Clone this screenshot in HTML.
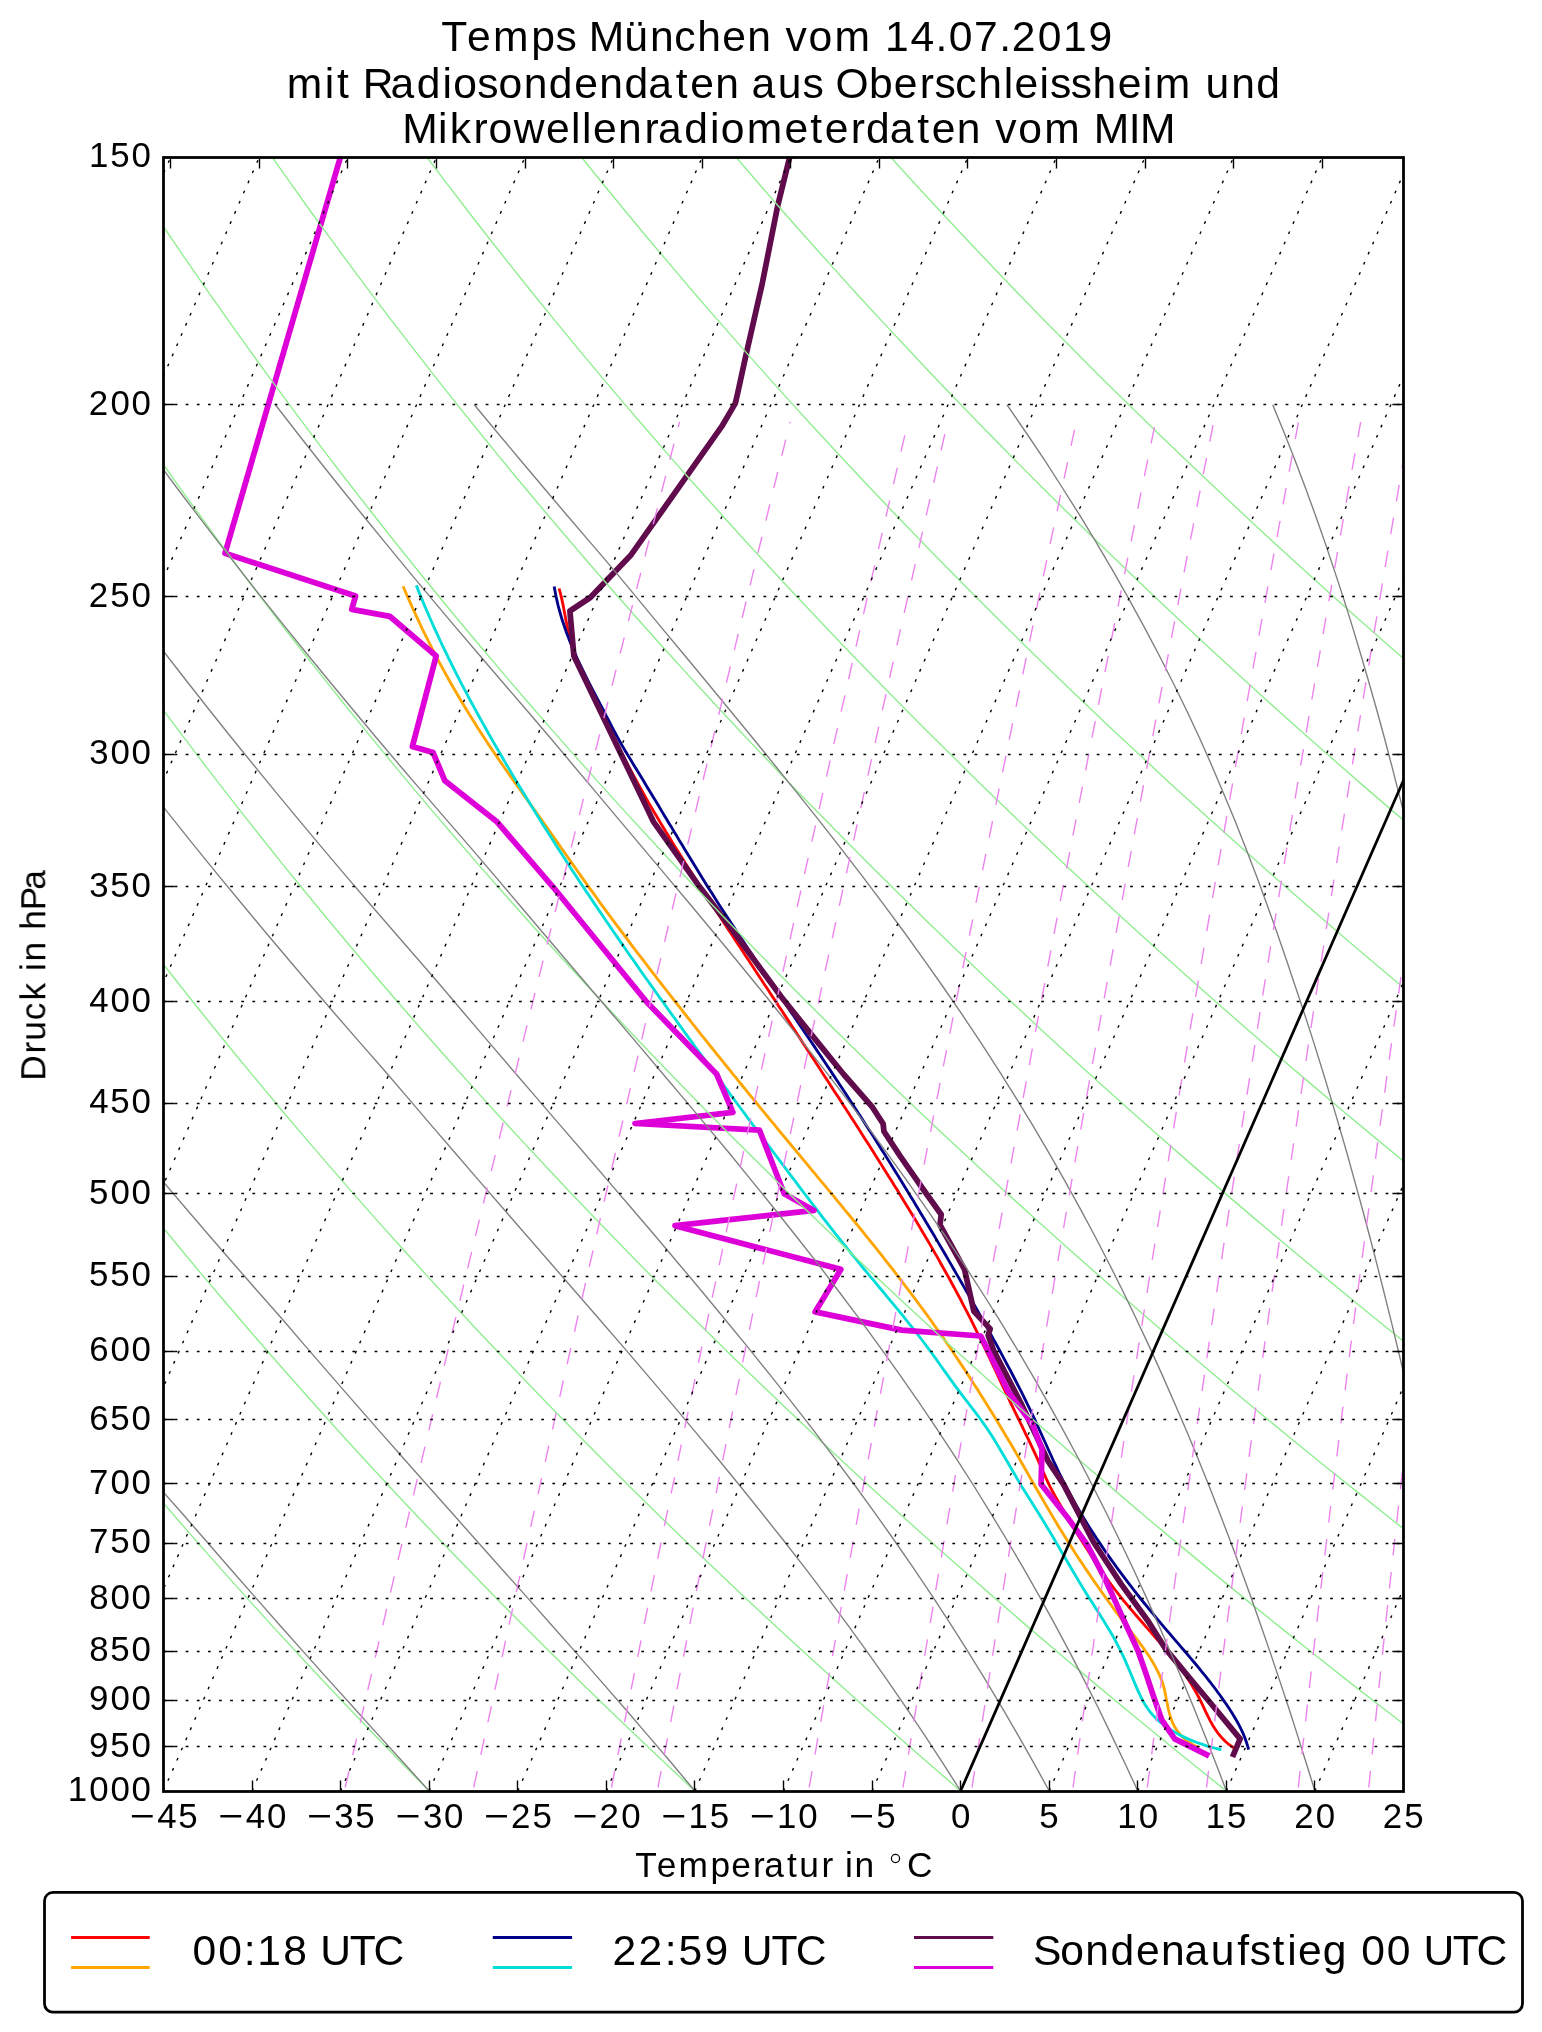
<!DOCTYPE html>
<html><head><meta charset="utf-8"><title>Temps München</title>
<style>
html,body{margin:0;padding:0;background:#fff;}
body{width:1542px;height:2032px;overflow:hidden;}
svg{display:block;}
text{font-family:"Liberation Sans",sans-serif;fill:#000;}
</style></head><body>
<svg width="1542" height="2032" viewBox="0 0 1542 2032">
<rect width="1542" height="2032" fill="#fff"/>
<defs><clipPath id="c"><rect x="163.5" y="157.5" width="1240.0" height="1634.0"/></clipPath></defs>
<g clip-path="url(#c)">
<path d="M559.1 588.5 L560.4 593.3 L561.6 598.1 L562.6 602.9 L563.6 607.7 L564.5 612.4 L565.4 617.2 L566.3 621.9 L567.2 626.6 L568.1 631.3 L569.1 636.0 L570.2 640.7 L571.4 645.4 L572.7 650.1 L574.2 654.7 L575.8 659.3 L577.6 664.0 L579.6 668.6 L581.6 673.2 L583.8 677.8 L586.0 682.4 L588.3 686.9 L590.7 691.5 L593.1 696.1 L595.5 700.6 L597.9 705.1 L600.3 709.7 L602.6 714.2 L604.9 718.7 L607.1 723.2 L609.3 727.7 L611.5 732.1 L613.7 736.6 L615.8 741.1 L618.0 745.5 L620.2 749.9 L622.4 754.4 L624.7 758.8 L627.0 763.2 L629.3 767.6 L631.6 772.0 L634.0 776.4 L636.4 780.8 L638.8 785.2 L641.2 789.5 L643.7 793.9 L646.1 798.3 L648.6 802.6 L651.1 806.9 L653.6 811.3 L656.2 815.6 L658.8 819.9 L661.3 824.2 L663.9 828.5 L666.5 832.8 L669.2 837.1 L671.8 841.4 L674.4 845.7 L677.1 850.0 L679.8 854.3 L682.5 858.5 L685.1 862.8 L687.8 867.0 L690.6 871.3 L693.3 875.5 L696.0 879.8 L698.7 884.0 L701.5 888.2 L704.2 892.5 L706.9 896.7 L709.7 900.9 L712.4 905.1 L715.2 909.3 L717.9 913.6 L720.7 917.8 L723.4 922.0 L726.2 926.2 L728.9 930.4 L731.7 934.5 L734.4 938.7 L737.2 942.9 L739.9 947.1 L742.7 951.3 L745.4 955.5 L748.2 959.6 L750.9 963.8 L753.7 968.0 L756.4 972.2 L759.1 976.3 L761.9 980.5 L764.6 984.7 L767.4 988.8 L770.1 993.0 L772.8 997.1 L775.6 1001.3 L778.3 1005.5 L781.1 1009.6 L783.8 1013.8 L786.5 1017.9 L789.3 1022.1 L792.0 1026.3 L794.7 1030.4 L797.4 1034.6 L800.2 1038.7 L802.9 1042.9 L805.6 1047.0 L808.3 1051.2 L811.1 1055.4 L813.8 1059.5 L816.5 1063.7 L819.2 1067.8 L821.9 1072.0 L824.6 1076.2 L827.3 1080.3 L830.0 1084.5 L832.7 1088.7 L835.4 1092.9 L838.2 1097.0 L840.9 1101.2 L843.5 1105.4 L846.2 1109.6 L848.9 1113.7 L851.6 1117.9 L854.3 1122.1 L857.0 1126.3 L859.7 1130.5 L862.4 1134.7 L865.0 1138.9 L867.7 1143.1 L870.4 1147.3 L873.1 1151.5 L875.7 1155.8 L878.4 1160.0 L881.1 1164.2 L883.7 1168.4 L886.4 1172.7 L889.0 1176.9 L891.7 1181.1 L894.3 1185.4 L897.0 1189.6 L899.6 1193.9 L902.2 1198.2 L904.8 1202.4 L907.4 1206.7 L910.0 1211.0 L912.6 1215.3 L915.2 1219.5 L917.8 1223.8 L920.3 1228.1 L922.9 1232.5 L925.4 1236.8 L928.0 1241.1 L930.5 1245.4 L933.0 1249.8 L935.5 1254.1 L938.0 1258.4 L940.4 1262.8 L942.9 1267.2 L945.3 1271.5 L947.8 1275.9 L950.2 1280.3 L952.6 1284.7 L955.0 1289.1 L957.3 1293.5 L959.7 1297.9 L962.0 1302.3 L964.3 1306.8 L966.6 1311.2 L968.9 1315.7 L971.2 1320.1 L973.4 1324.6 L975.6 1329.1 L977.8 1333.6 L980.0 1338.1 L982.2 1342.6 L984.4 1347.1 L986.5 1351.6 L988.7 1356.1 L990.8 1360.6 L992.9 1365.2 L995.1 1369.7 L997.2 1374.2 L999.3 1378.8 L1001.4 1383.3 L1003.6 1387.9 L1005.7 1392.4 L1007.9 1396.9 L1010.0 1401.5 L1012.2 1406.0 L1014.4 1410.6 L1016.6 1415.1 L1018.8 1419.7 L1021.0 1424.2 L1023.2 1428.7 L1025.4 1433.3 L1027.6 1437.8 L1029.8 1442.3 L1031.9 1446.8 L1034.0 1451.3 L1036.1 1455.8 L1038.1 1460.3 L1040.0 1464.8 L1042.0 1469.3 L1044.0 1473.7 L1046.0 1478.2 L1048.1 1482.6 L1050.3 1487.1 L1052.6 1491.5 L1055.0 1495.9 L1057.5 1500.3 L1060.1 1504.7 L1062.6 1509.0 L1065.2 1513.4 L1067.8 1517.7 L1070.4 1522.0 L1072.9 1526.3 L1075.5 1530.6 L1078.1 1534.9 L1080.7 1539.2 L1083.4 1543.4 L1086.0 1547.6 L1088.7 1551.8 L1091.4 1556.0 L1094.1 1560.1 L1096.9 1564.2 L1099.6 1568.3 L1102.5 1572.4 L1105.3 1576.5 L1108.2 1580.5 L1111.1 1584.5 L1114.1 1588.5 L1117.2 1592.5 L1120.2 1596.4 L1123.4 1600.3 L1126.6 1604.2 L1129.8 1608.0 L1133.1 1611.9 L1136.4 1615.7 L1139.7 1619.5 L1143.0 1623.3 L1146.3 1627.1 L1149.7 1630.9 L1153.0 1634.7 L1156.3 1638.6 L1159.6 1642.4 L1162.9 1646.2 L1166.1 1650.1 L1169.3 1653.9 L1172.5 1657.9 L1175.6 1661.8 L1178.6 1665.7 L1181.5 1669.7 L1184.4 1673.8 L1187.2 1677.9 L1189.9 1682.0 L1192.5 1686.2 L1195.0 1690.4 L1197.4 1694.7 L1199.7 1699.0 L1201.8 1703.4 L1203.9 1707.9 L1206.0 1712.3 L1208.1 1716.7 L1210.4 1721.1 L1212.8 1725.4 L1215.4 1729.5 L1218.3 1733.6 L1221.6 1737.5 L1225.2 1741.2 L1229.2 1744.7 L1233.8 1747.9 L1234.0 1748.0" stroke="#ff0000" stroke-width="2.85" fill="none" stroke-linejoin="round" stroke-linecap="butt"/>
<path d="M403.1 586.3 L405.1 591.0 L407.1 595.7 L409.2 600.3 L411.2 604.9 L413.3 609.5 L415.4 614.1 L417.5 618.7 L419.6 623.2 L421.8 627.8 L424.0 632.3 L426.2 636.7 L428.4 641.2 L430.6 645.7 L432.9 650.1 L435.2 654.5 L437.5 658.9 L439.8 663.3 L442.2 667.6 L444.6 672.0 L447.0 676.3 L449.4 680.7 L451.8 685.0 L454.3 689.3 L456.8 693.5 L459.3 697.8 L461.8 702.1 L464.4 706.3 L467.0 710.6 L469.6 714.8 L472.2 719.0 L474.9 723.2 L477.5 727.5 L480.2 731.7 L482.9 735.8 L485.7 740.0 L488.4 744.2 L491.2 748.4 L494.0 752.5 L496.9 756.7 L499.7 760.9 L502.6 765.0 L505.5 769.2 L508.4 773.3 L511.3 777.4 L514.2 781.6 L517.2 785.7 L520.1 789.8 L523.0 794.0 L526.0 798.1 L528.9 802.2 L531.9 806.3 L534.8 810.4 L537.7 814.5 L540.7 818.6 L543.6 822.7 L546.4 826.8 L549.3 830.9 L552.2 835.0 L555.1 839.0 L557.9 843.1 L560.8 847.2 L563.6 851.2 L566.4 855.3 L569.3 859.4 L572.1 863.4 L575.0 867.5 L577.8 871.5 L580.7 875.6 L583.5 879.6 L586.4 883.6 L589.3 887.7 L592.2 891.7 L595.1 895.7 L598.0 899.8 L600.9 903.8 L603.9 907.8 L606.8 911.8 L609.8 915.8 L612.7 919.8 L615.7 923.8 L618.7 927.8 L621.7 931.8 L624.7 935.8 L627.7 939.8 L630.7 943.8 L633.7 947.8 L636.7 951.8 L639.8 955.8 L642.8 959.7 L645.8 963.7 L648.9 967.7 L651.9 971.6 L655.0 975.6 L658.0 979.6 L661.1 983.5 L664.2 987.5 L667.2 991.4 L670.3 995.4 L673.4 999.3 L676.5 1003.3 L679.6 1007.2 L682.7 1011.2 L685.8 1015.1 L688.9 1019.0 L692.0 1023.0 L695.1 1026.9 L698.2 1030.8 L701.3 1034.8 L704.5 1038.7 L707.6 1042.6 L710.7 1046.5 L713.9 1050.4 L717.0 1054.3 L720.1 1058.2 L723.3 1062.1 L726.4 1066.0 L729.6 1069.9 L732.7 1073.8 L735.9 1077.7 L739.0 1081.6 L742.2 1085.5 L745.4 1089.4 L748.5 1093.3 L751.7 1097.2 L754.9 1101.0 L758.0 1104.9 L761.2 1108.8 L764.4 1112.7 L767.5 1116.5 L770.7 1120.4 L773.9 1124.2 L777.1 1128.1 L780.3 1132.0 L783.5 1135.8 L786.6 1139.7 L789.8 1143.5 L793.0 1147.4 L796.2 1151.2 L799.4 1155.0 L802.6 1158.9 L805.8 1162.7 L809.0 1166.6 L812.1 1170.4 L815.3 1174.2 L818.5 1178.1 L821.7 1181.9 L824.9 1185.7 L828.1 1189.6 L831.3 1193.4 L834.4 1197.2 L837.6 1201.1 L840.8 1204.9 L843.9 1208.8 L847.1 1212.6 L850.3 1216.5 L853.4 1220.3 L856.6 1224.2 L859.7 1228.0 L862.9 1231.9 L866.0 1235.8 L869.1 1239.7 L872.2 1243.5 L875.4 1247.4 L878.5 1251.3 L881.6 1255.2 L884.6 1259.1 L887.7 1263.1 L890.8 1267.0 L893.9 1270.9 L896.9 1274.9 L900.0 1278.8 L903.0 1282.8 L906.0 1286.8 L909.1 1290.8 L912.1 1294.8 L915.1 1298.8 L918.0 1302.8 L921.0 1306.8 L924.0 1310.9 L926.9 1314.9 L929.9 1319.0 L932.8 1323.1 L935.7 1327.2 L938.6 1331.3 L941.5 1335.4 L944.4 1339.5 L947.2 1343.7 L950.1 1347.8 L952.9 1352.0 L955.7 1356.2 L958.5 1360.4 L961.3 1364.6 L964.1 1368.8 L966.8 1373.0 L969.6 1377.2 L972.3 1381.4 L975.0 1385.7 L977.8 1389.9 L980.4 1394.2 L983.1 1398.4 L985.8 1402.7 L988.4 1407.0 L991.1 1411.2 L993.7 1415.5 L996.3 1419.8 L998.9 1424.1 L1001.5 1428.4 L1004.1 1432.7 L1006.6 1437.0 L1009.2 1441.2 L1011.7 1445.5 L1014.2 1449.8 L1016.7 1454.1 L1019.2 1458.4 L1021.6 1462.7 L1024.1 1467.0 L1026.5 1471.3 L1029.0 1475.6 L1031.4 1479.9 L1033.9 1484.2 L1036.3 1488.5 L1038.8 1492.8 L1041.2 1497.1 L1043.7 1501.3 L1046.2 1505.6 L1048.7 1509.9 L1051.2 1514.1 L1053.7 1518.4 L1056.2 1522.6 L1058.8 1526.9 L1061.4 1531.1 L1064.0 1535.3 L1066.7 1539.6 L1069.3 1543.8 L1072.0 1548.0 L1074.7 1552.2 L1077.4 1556.4 L1080.2 1560.6 L1083.0 1564.7 L1085.7 1568.9 L1088.6 1573.1 L1091.4 1577.2 L1094.2 1581.4 L1097.1 1585.5 L1100.0 1589.6 L1102.9 1593.7 L1105.8 1597.8 L1108.8 1601.9 L1111.8 1606.0 L1114.7 1610.1 L1117.8 1614.1 L1120.8 1618.2 L1123.8 1622.2 L1126.9 1626.3 L1130.0 1630.3 L1133.1 1634.3 L1136.2 1638.3 L1139.2 1642.3 L1142.2 1646.4 L1145.1 1650.5 L1148.0 1654.6 L1150.7 1658.8 L1153.3 1663.1 L1155.7 1667.5 L1158.0 1671.9 L1160.1 1676.4 L1161.9 1681.0 L1163.4 1685.7 L1164.6 1690.4 L1165.6 1695.2 L1166.5 1700.0 L1167.5 1704.7 L1168.4 1709.5 L1169.6 1714.2 L1171.0 1718.7 L1172.8 1723.1 L1175.0 1727.4 L1177.7 1731.5 L1180.9 1735.3 L1184.5 1738.8 L1188.7 1742.0 L1193.3 1744.9 L1198.3 1747.4 L1199.3 1747.8" stroke="#ffa500" stroke-width="2.85" fill="none" stroke-linejoin="round" stroke-linecap="butt"/>
<path d="M554.2 586.4 L555.1 591.4 L556.0 596.2 L557.1 601.1 L558.2 605.9 L559.5 610.7 L560.9 615.5 L562.3 620.3 L563.9 625.0 L565.5 629.7 L567.2 634.4 L569.0 639.1 L570.9 643.7 L572.8 648.3 L574.8 652.9 L576.8 657.5 L578.9 662.0 L581.1 666.6 L583.3 671.1 L585.5 675.6 L587.7 680.1 L590.0 684.6 L592.3 689.1 L594.6 693.5 L596.9 697.9 L599.3 702.4 L601.6 706.8 L603.9 711.2 L606.1 715.6 L608.4 719.9 L610.7 724.3 L612.9 728.7 L615.2 733.0 L617.6 737.4 L620.0 741.7 L622.4 746.1 L625.0 750.4 L627.6 754.7 L630.2 759.0 L632.8 763.4 L635.5 767.7 L638.1 772.0 L640.7 776.3 L643.3 780.6 L645.9 784.9 L648.5 789.2 L651.1 793.5 L653.7 797.8 L656.3 802.0 L658.9 806.3 L661.4 810.6 L664.0 814.9 L666.5 819.1 L669.1 823.4 L671.7 827.6 L674.2 831.9 L676.8 836.1 L679.3 840.4 L681.9 844.6 L684.5 848.9 L687.0 853.1 L689.6 857.3 L692.2 861.6 L694.8 865.8 L697.4 870.0 L700.0 874.2 L702.6 878.4 L705.2 882.7 L707.8 886.9 L710.5 891.1 L713.2 895.3 L715.8 899.5 L718.5 903.7 L721.2 907.9 L723.9 912.1 L726.7 916.3 L729.4 920.4 L732.1 924.6 L734.9 928.8 L737.6 933.0 L740.4 937.2 L743.2 941.3 L746.0 945.5 L748.7 949.7 L751.5 953.9 L754.3 958.0 L757.1 962.2 L760.0 966.4 L762.8 970.5 L765.6 974.7 L768.4 978.9 L771.2 983.0 L774.1 987.2 L776.9 991.4 L779.7 995.5 L782.5 999.7 L785.4 1003.8 L788.2 1008.0 L791.0 1012.2 L793.9 1016.3 L796.7 1020.5 L799.5 1024.6 L802.3 1028.8 L805.1 1033.0 L808.0 1037.1 L810.8 1041.3 L813.6 1045.4 L816.4 1049.6 L819.2 1053.8 L822.0 1057.9 L824.7 1062.1 L827.5 1066.3 L830.3 1070.4 L833.1 1074.6 L835.8 1078.8 L838.6 1082.9 L841.3 1087.1 L844.1 1091.3 L846.8 1095.4 L849.5 1099.6 L852.3 1103.8 L855.0 1108.0 L857.7 1112.2 L860.4 1116.3 L863.1 1120.5 L865.8 1124.7 L868.5 1128.9 L871.2 1133.1 L873.9 1137.3 L876.5 1141.5 L879.2 1145.7 L881.8 1149.9 L884.5 1154.1 L887.1 1158.3 L889.8 1162.5 L892.4 1166.8 L895.0 1171.0 L897.7 1175.2 L900.3 1179.4 L902.9 1183.7 L905.5 1187.9 L908.1 1192.2 L910.6 1196.4 L913.2 1200.6 L915.8 1204.9 L918.4 1209.2 L920.9 1213.4 L923.5 1217.7 L926.0 1222.0 L928.6 1226.2 L931.1 1230.5 L933.7 1234.8 L936.2 1239.1 L938.7 1243.4 L941.3 1247.7 L943.8 1252.0 L946.3 1256.3 L948.8 1260.6 L951.3 1264.9 L953.8 1269.3 L956.3 1273.6 L958.8 1277.9 L961.3 1282.3 L963.8 1286.6 L966.3 1291.0 L968.8 1295.4 L971.3 1299.7 L973.8 1304.1 L976.3 1308.5 L978.8 1312.9 L981.2 1317.3 L983.7 1321.7 L986.2 1326.1 L988.6 1330.5 L991.1 1334.9 L993.5 1339.4 L996.0 1343.8 L998.4 1348.2 L1000.8 1352.7 L1003.2 1357.1 L1005.6 1361.6 L1008.0 1366.1 L1010.4 1370.5 L1012.7 1375.0 L1015.0 1379.5 L1017.3 1384.0 L1019.6 1388.4 L1021.9 1392.9 L1024.1 1397.4 L1026.3 1401.9 L1028.5 1406.4 L1030.7 1410.9 L1032.8 1415.4 L1034.9 1419.9 L1037.0 1424.5 L1039.0 1429.0 L1041.1 1433.5 L1043.1 1438.0 L1045.2 1442.5 L1047.2 1447.0 L1049.2 1451.5 L1051.3 1456.0 L1053.3 1460.5 L1055.4 1464.9 L1057.5 1469.4 L1059.6 1473.8 L1061.8 1478.2 L1064.0 1482.6 L1066.3 1487.0 L1068.6 1491.4 L1070.9 1495.7 L1073.3 1500.1 L1075.7 1504.4 L1078.2 1508.7 L1080.7 1513.0 L1083.2 1517.2 L1085.8 1521.5 L1088.4 1525.7 L1091.1 1529.9 L1093.8 1534.1 L1096.5 1538.3 L1099.3 1542.4 L1102.1 1546.6 L1104.9 1550.7 L1107.7 1554.8 L1110.6 1558.9 L1113.6 1563.0 L1116.5 1567.1 L1119.5 1571.1 L1122.5 1575.2 L1125.5 1579.2 L1128.5 1583.2 L1131.6 1587.2 L1134.7 1591.1 L1137.8 1595.1 L1140.9 1599.0 L1144.1 1603.0 L1147.3 1606.9 L1150.5 1610.8 L1153.7 1614.7 L1156.9 1618.6 L1160.1 1622.4 L1163.4 1626.3 L1166.6 1630.1 L1169.9 1633.9 L1173.2 1637.8 L1176.5 1641.6 L1179.7 1645.4 L1183.0 1649.2 L1186.3 1653.0 L1189.5 1656.9 L1192.8 1660.7 L1196.0 1664.5 L1199.2 1668.4 L1202.3 1672.3 L1205.5 1676.2 L1208.6 1680.1 L1211.6 1684.0 L1214.7 1688.0 L1217.6 1692.0 L1220.6 1696.0 L1223.4 1700.1 L1226.3 1704.2 L1229.0 1708.3 L1231.7 1712.5 L1234.3 1716.8 L1236.8 1721.0 L1239.2 1725.4 L1241.4 1729.8 L1243.4 1734.2 L1245.2 1738.7 L1246.8 1743.3 L1248.2 1747.9 L1248.6 1749.6" stroke="#00008b" stroke-width="2.85" fill="none" stroke-linejoin="round" stroke-linecap="butt"/>
<path d="M416.3 585.4 L418.2 590.1 L420.0 594.7 L421.9 599.3 L423.8 603.9 L425.8 608.5 L427.8 613.1 L429.8 617.7 L431.8 622.3 L433.8 626.8 L435.9 631.4 L438.0 635.9 L440.1 640.5 L442.2 645.0 L444.4 649.5 L446.6 654.0 L448.7 658.5 L451.0 663.0 L453.2 667.5 L455.4 671.9 L457.7 676.4 L460.0 680.8 L462.3 685.3 L464.6 689.7 L467.0 694.2 L469.3 698.6 L471.7 703.0 L474.1 707.4 L476.5 711.8 L478.9 716.2 L481.3 720.6 L483.7 724.9 L486.2 729.3 L488.6 733.7 L491.1 738.0 L493.6 742.4 L496.1 746.7 L498.6 751.0 L501.1 755.3 L503.6 759.7 L506.1 764.0 L508.7 768.3 L511.2 772.6 L513.8 776.9 L516.3 781.2 L518.9 785.4 L521.5 789.7 L524.1 794.0 L526.7 798.2 L529.3 802.5 L531.9 806.7 L534.5 811.0 L537.1 815.2 L539.8 819.5 L542.4 823.7 L545.1 827.9 L547.7 832.1 L550.4 836.3 L553.1 840.5 L555.7 844.8 L558.4 848.9 L561.1 853.1 L563.8 857.3 L566.5 861.5 L569.3 865.7 L572.0 869.9 L574.7 874.0 L577.5 878.2 L580.2 882.4 L583.0 886.5 L585.7 890.7 L588.5 894.8 L591.3 899.0 L594.1 903.1 L596.9 907.3 L599.7 911.4 L602.5 915.5 L605.3 919.7 L608.1 923.8 L610.9 927.9 L613.7 932.0 L616.6 936.1 L619.4 940.3 L622.2 944.4 L625.1 948.5 L627.9 952.6 L630.8 956.7 L633.7 960.8 L636.6 964.9 L639.4 969.0 L642.3 973.1 L645.2 977.2 L648.1 981.3 L651.0 985.4 L653.9 989.4 L656.8 993.5 L659.7 997.6 L662.7 1001.7 L665.6 1005.8 L668.5 1009.9 L671.4 1013.9 L674.4 1018.0 L677.3 1022.1 L680.3 1026.1 L683.2 1030.2 L686.2 1034.3 L689.1 1038.3 L692.1 1042.4 L695.0 1046.5 L698.0 1050.5 L701.0 1054.6 L703.9 1058.6 L706.9 1062.7 L709.9 1066.7 L712.9 1070.8 L715.8 1074.8 L718.8 1078.8 L721.8 1082.9 L724.8 1086.9 L727.8 1090.9 L730.7 1095.0 L733.7 1099.0 L736.7 1103.0 L739.7 1107.0 L742.7 1111.0 L745.7 1115.1 L748.6 1119.1 L751.6 1123.1 L754.6 1127.1 L757.6 1131.1 L760.6 1135.1 L763.6 1139.0 L766.5 1143.0 L769.5 1147.0 L772.5 1151.0 L775.5 1155.0 L778.4 1158.9 L781.4 1162.9 L784.4 1166.9 L787.4 1170.8 L790.3 1174.8 L793.3 1178.7 L796.3 1182.7 L799.2 1186.6 L802.2 1190.6 L805.2 1194.5 L808.2 1198.4 L811.2 1202.4 L814.2 1206.3 L817.2 1210.2 L820.2 1214.2 L823.2 1218.1 L826.3 1222.0 L829.3 1225.9 L832.4 1229.8 L835.5 1233.8 L838.6 1237.7 L841.7 1241.6 L844.8 1245.5 L848.0 1249.4 L851.2 1253.3 L854.4 1257.2 L857.6 1261.2 L860.8 1265.1 L864.0 1269.0 L867.3 1272.9 L870.5 1276.8 L873.8 1280.7 L877.1 1284.6 L880.3 1288.5 L883.6 1292.4 L886.8 1296.4 L890.1 1300.3 L893.3 1304.2 L896.6 1308.1 L899.8 1312.0 L903.0 1315.9 L906.1 1319.9 L909.3 1323.8 L912.4 1327.7 L915.5 1331.7 L918.6 1335.6 L921.6 1339.5 L924.6 1343.5 L927.5 1347.4 L930.5 1351.3 L933.3 1355.3 L936.2 1359.2 L939.0 1363.2 L941.8 1367.2 L944.6 1371.1 L947.5 1375.1 L950.3 1379.1 L953.2 1383.1 L956.1 1387.1 L959.1 1391.1 L962.1 1395.1 L965.2 1399.1 L968.3 1403.2 L971.5 1407.3 L974.6 1411.3 L977.6 1415.4 L980.7 1419.5 L983.6 1423.6 L986.5 1427.8 L989.3 1431.9 L992.0 1436.1 L994.6 1440.3 L997.2 1444.5 L999.7 1448.7 L1002.2 1453.0 L1004.7 1457.2 L1007.2 1461.5 L1009.6 1465.7 L1012.1 1470.0 L1014.6 1474.3 L1017.1 1478.6 L1019.6 1482.9 L1022.2 1487.2 L1024.9 1491.5 L1027.6 1495.8 L1030.3 1500.1 L1033.0 1504.4 L1035.7 1508.7 L1038.4 1513.0 L1041.0 1517.3 L1043.7 1521.6 L1046.3 1525.9 L1048.9 1530.2 L1051.5 1534.5 L1054.0 1538.8 L1056.5 1543.1 L1059.0 1547.4 L1061.5 1551.7 L1064.0 1555.9 L1066.5 1560.2 L1069.0 1564.5 L1071.5 1568.7 L1074.0 1573.0 L1076.5 1577.2 L1079.0 1581.5 L1081.6 1585.7 L1084.2 1589.9 L1086.8 1594.2 L1089.5 1598.4 L1092.2 1602.6 L1094.8 1606.8 L1097.5 1611.1 L1100.2 1615.3 L1102.9 1619.6 L1105.6 1623.9 L1108.2 1628.2 L1110.8 1632.5 L1113.3 1636.9 L1115.7 1641.3 L1118.1 1645.8 L1120.4 1650.3 L1122.6 1654.8 L1124.7 1659.4 L1126.7 1664.1 L1128.7 1668.7 L1130.7 1673.4 L1132.6 1678.0 L1134.5 1682.6 L1136.4 1687.1 L1138.4 1691.6 L1140.4 1696.0 L1142.6 1700.3 L1145.0 1704.5 L1147.6 1708.5 L1150.5 1712.4 L1153.7 1716.0 L1157.1 1719.5 L1160.9 1722.7 L1164.9 1725.8 L1169.1 1728.7 L1173.5 1731.5 L1178.0 1734.0 L1182.6 1736.4 L1187.4 1738.6 L1192.1 1740.6 L1196.9 1742.5 L1201.8 1744.2 L1206.5 1745.8 L1211.2 1747.2 L1215.8 1748.4 L1220.3 1749.5 L1221.3 1749.7" stroke="#00ddd8" stroke-width="2.85" fill="none" stroke-linejoin="round" stroke-linecap="butt"/>
<path d="M789.6 157.5 L777.7 205.8 L762.4 282.8 L745.8 355.8 L737.5 394.0 L735.3 403.4 L721.6 426.7 L631.2 554.7 L590.3 597.5 L569.9 611.0 L573.9 656.0 L653.4 821.6 L700.0 887.3 L732.9 930.8 L781.0 996.5 L811.3 1034.4 L843.8 1074.5 L872.4 1107.2 L883.1 1123.8 L884.0 1131.5 L900.0 1155.8 L923.7 1190.0 L941.2 1214.5 L940.0 1225.0 L964.5 1269.4 L973.9 1311.4 L990.2 1328.9 L988.2 1335.2 L993.4 1350.0 L1020.6 1402.5 L1047.9 1460.8 L1063.4 1484.2 L1093.5 1542.0 L1121.2 1584.1 L1148.2 1621.2 L1165.0 1648.1 L1188.6 1676.8 L1208.0 1700.0 L1240.1 1738.9 L1232.5 1757.0" stroke="#600b4b" stroke-width="5.75" fill="none" stroke-linejoin="round" stroke-linecap="butt"/>
<path d="M340.3 157.5 L225.0 553.3 L355.5 596.1 L351.8 609.3 L389.7 616.3 L436.2 656.0 L412.4 746.6 L433.1 752.6 L444.9 780.8 L497.2 822.1 L553.3 887.3 L646.9 1002.3 L716.6 1074.0 L732.9 1112.3 L635.0 1123.5 L759.5 1130.2 L784.2 1193.8 L814.0 1210.4 L675.0 1225.7 L840.8 1269.4 L815.1 1311.9 L901.5 1330.1 L980.8 1336.0 L1008.9 1392.8 L1032.3 1423.9 L1042.0 1449.2 L1041.1 1484.2 L1067.3 1517.3 L1087.5 1545.3 L1104.3 1577.3 L1121.2 1614.4 L1138.0 1650.7 L1146.5 1675.1 L1152.5 1693.3 L1161.9 1720.2 L1174.7 1738.9 L1209.1 1755.8" stroke="#de00d8" stroke-width="5.75" fill="none" stroke-linejoin="round" stroke-linecap="butt"/>
<path d="M429.2 1791.0 L402.5 1763.8 L376.0 1736.5 L350.0 1709.3 L324.2 1682.1 L298.9 1654.8 L273.8 1627.6 L249.1 1600.4 L224.7 1573.1 L200.6 1545.9 L176.9 1518.7 L153.4 1491.4 L130.3 1464.2 L107.6 1437.0 L85.1 1409.7 L62.9 1382.5 L41.0 1355.3 L19.5 1328.0 L-1.8 1300.8 L-22.7 1273.6 L-43.4 1246.3 L-63.8 1219.1 L-83.9 1191.9 L-103.6 1164.6 L-123.2 1137.4 L-142.4 1110.2 L-161.3 1082.9 L-180.0 1055.7 L-198.4 1028.5 L-216.5 1001.2 L-234.4 974.0 L-252.0 946.8 L-269.3 919.5 L-286.3 892.3 L-303.1 865.1 L-319.7 837.8 L-335.9 810.6 L-352.0 783.4 L-367.8 756.1 L-383.3 728.9 L-398.6 701.7 L-413.6 674.4 L-428.4 647.2 L-443.0 620.0 L-457.3 592.7 L-471.4 565.5 L-485.2 538.3 L-498.8 511.0 L-512.2 483.8 L-525.4 456.6 L-538.3 429.3 L-551.0 402.1 L-563.5 374.9 L-575.8 347.6 L-587.8 320.4 L-599.7 293.2 L-611.3 265.9 L-622.7 238.7 L-633.9 211.5 L-644.9 184.2 L-655.7 157.0 M694.9 1791.0 L665.8 1763.8 L637.0 1736.5 L608.6 1709.3 L580.5 1682.1 L552.8 1654.8 L525.5 1627.6 L498.5 1600.4 L471.9 1573.1 L445.6 1545.9 L419.7 1518.7 L394.1 1491.4 L368.8 1464.2 L343.9 1437.0 L319.3 1409.7 L295.0 1382.5 L271.0 1355.3 L247.4 1328.0 L224.1 1300.8 L201.1 1273.6 L178.4 1246.3 L156.1 1219.1 L134.0 1191.9 L112.3 1164.6 L90.8 1137.4 L69.7 1110.2 L48.8 1082.9 L28.3 1055.7 L8.0 1028.5 L-12.0 1001.2 L-31.7 974.0 L-51.1 946.8 L-70.2 919.5 L-89.1 892.3 L-107.6 865.1 L-125.9 837.8 L-143.9 810.6 L-161.7 783.4 L-179.2 756.1 L-196.4 728.9 L-213.4 701.7 L-230.1 674.4 L-246.5 647.2 L-262.7 620.0 L-278.6 592.7 L-294.3 565.5 L-309.8 538.3 L-325.0 511.0 L-339.9 483.8 L-354.6 456.6 L-369.1 429.3 L-383.3 402.1 L-397.3 374.9 L-411.1 347.6 L-424.6 320.4 L-437.9 293.2 L-451.0 265.9 L-463.8 238.7 L-476.5 211.5 L-488.9 184.2 L-501.1 157.0 M960.6 1791.0 L929.1 1763.8 L898.0 1736.5 L867.2 1709.3 L836.8 1682.1 L806.8 1654.8 L777.2 1627.6 L748.0 1600.4 L719.1 1573.1 L690.6 1545.9 L662.4 1518.7 L634.7 1491.4 L607.2 1464.2 L580.2 1437.0 L553.4 1409.7 L527.1 1382.5 L501.0 1355.3 L475.3 1328.0 L450.0 1300.8 L425.0 1273.6 L400.3 1246.3 L375.9 1219.1 L351.9 1191.9 L328.2 1164.6 L304.8 1137.4 L281.7 1110.2 L259.0 1082.9 L236.5 1055.7 L214.4 1028.5 L192.5 1001.2 L171.0 974.0 L149.8 946.8 L128.9 919.5 L108.2 892.3 L87.9 865.1 L67.8 837.8 L48.1 810.6 L28.6 783.4 L9.4 756.1 L-9.5 728.9 L-28.2 701.7 L-46.5 674.4 L-64.6 647.2 L-82.4 620.0 L-100.0 592.7 L-117.3 565.5 L-134.3 538.3 L-151.1 511.0 L-167.6 483.8 L-183.8 456.6 L-199.9 429.3 L-215.6 402.1 L-231.1 374.9 L-246.4 347.6 L-261.4 320.4 L-276.1 293.2 L-290.7 265.9 L-305.0 238.7 L-319.0 211.5 L-332.8 184.2 L-346.4 157.0 M1226.4 1791.0 L1192.4 1763.8 L1158.9 1736.5 L1125.8 1709.3 L1093.1 1682.1 L1060.8 1654.8 L1028.9 1627.6 L997.4 1600.4 L966.3 1573.1 L935.6 1545.9 L905.2 1518.7 L875.3 1491.4 L845.7 1464.2 L816.5 1437.0 L787.6 1409.7 L759.1 1382.5 L731.0 1355.3 L703.3 1328.0 L675.9 1300.8 L648.8 1273.6 L622.1 1246.3 L595.8 1219.1 L569.8 1191.9 L544.1 1164.6 L518.8 1137.4 L493.8 1110.2 L469.1 1082.9 L444.8 1055.7 L420.8 1028.5 L397.1 1001.2 L373.7 974.0 L350.7 946.8 L327.9 919.5 L305.5 892.3 L283.4 865.1 L261.6 837.8 L240.1 810.6 L218.9 783.4 L198.0 756.1 L177.4 728.9 L157.0 701.7 L137.0 674.4 L117.3 647.2 L97.8 620.0 L78.6 592.7 L59.7 565.5 L41.1 538.3 L22.8 511.0 L4.7 483.8 L-13.1 456.6 L-30.6 429.3 L-47.9 402.1 L-64.9 374.9 L-81.7 347.6 L-98.1 320.4 L-114.4 293.2 L-130.4 265.9 L-146.1 238.7 L-161.6 211.5 L-176.8 184.2 L-191.8 157.0 M1492.1 1791.0 L1455.8 1763.8 L1419.9 1736.5 L1384.4 1709.3 L1349.4 1682.1 L1314.8 1654.8 L1280.6 1627.6 L1246.9 1600.4 L1213.5 1573.1 L1180.6 1545.9 L1148.0 1518.7 L1115.9 1491.4 L1084.1 1464.2 L1052.8 1437.0 L1021.8 1409.7 L991.2 1382.5 L961.0 1355.3 L931.2 1328.0 L901.7 1300.8 L872.7 1273.6 L843.9 1246.3 L815.6 1219.1 L787.6 1191.9 L760.0 1164.6 L732.7 1137.4 L705.8 1110.2 L679.2 1082.9 L653.0 1055.7 L627.1 1028.5 L601.6 1001.2 L576.4 974.0 L551.5 946.8 L527.0 919.5 L502.8 892.3 L478.9 865.1 L455.3 837.8 L432.1 810.6 L409.2 783.4 L386.6 756.1 L364.3 728.9 L342.3 701.7 L320.6 674.4 L299.2 647.2 L278.1 620.0 L257.3 592.7 L236.8 565.5 L216.6 538.3 L196.7 511.0 L177.0 483.8 L157.7 456.6 L138.6 429.3 L119.8 402.1 L101.3 374.9 L83.0 347.6 L65.1 320.4 L47.4 293.2 L29.9 265.9 L12.8 238.7 L-4.1 211.5 L-20.8 184.2 L-37.2 157.0 M1757.8 1791.0 L1719.1 1763.8 L1680.8 1736.5 L1643.1 1709.3 L1605.7 1682.1 L1568.8 1654.8 L1532.3 1627.6 L1496.3 1600.4 L1460.7 1573.1 L1425.6 1545.9 L1390.8 1518.7 L1356.5 1491.4 L1322.6 1464.2 L1289.1 1437.0 L1256.0 1409.7 L1223.3 1382.5 L1191.0 1355.3 L1159.1 1328.0 L1127.6 1300.8 L1096.5 1273.6 L1065.8 1246.3 L1035.4 1219.1 L1005.5 1191.9 L975.9 1164.6 L946.7 1137.4 L917.9 1110.2 L889.4 1082.9 L861.3 1055.7 L833.5 1028.5 L806.1 1001.2 L779.1 974.0 L752.4 946.8 L726.1 919.5 L700.1 892.3 L674.4 865.1 L649.1 837.8 L624.1 810.6 L599.5 783.4 L575.1 756.1 L551.1 728.9 L527.5 701.7 L504.1 674.4 L481.1 647.2 L458.3 620.0 L435.9 592.7 L413.8 565.5 L392.0 538.3 L370.5 511.0 L349.3 483.8 L328.4 456.6 L307.8 429.3 L287.5 402.1 L267.5 374.9 L247.8 347.6 L228.3 320.4 L209.1 293.2 L190.2 265.9 L171.6 238.7 L153.3 211.5 L135.2 184.2 L117.4 157.0 M2023.5 1791.0 L1982.4 1763.8 L1941.8 1736.5 L1901.7 1709.3 L1862.0 1682.1 L1822.8 1654.8 L1784.1 1627.6 L1745.8 1600.4 L1707.9 1573.1 L1670.5 1545.9 L1633.6 1518.7 L1597.1 1491.4 L1561.0 1464.2 L1525.4 1437.0 L1490.1 1409.7 L1455.4 1382.5 L1421.0 1355.3 L1387.0 1328.0 L1353.5 1300.8 L1320.4 1273.6 L1287.6 1246.3 L1255.3 1219.1 L1223.4 1191.9 L1191.8 1164.6 L1160.7 1137.4 L1129.9 1110.2 L1099.5 1082.9 L1069.5 1055.7 L1039.9 1028.5 L1010.7 1001.2 L981.8 974.0 L953.3 946.8 L925.1 919.5 L897.4 892.3 L869.9 865.1 L842.9 837.8 L816.1 810.6 L789.7 783.4 L763.7 756.1 L738.0 728.9 L712.7 701.7 L687.6 674.4 L663.0 647.2 L638.6 620.0 L614.6 592.7 L590.9 565.5 L567.5 538.3 L544.4 511.0 L521.6 483.8 L499.2 456.6 L477.0 429.3 L455.2 402.1 L433.7 374.9 L412.5 347.6 L391.5 320.4 L370.9 293.2 L350.6 265.9 L330.5 238.7 L310.7 211.5 L291.3 184.2 L272.1 157.0 M2289.2 1791.0 L2245.7 1763.8 L2202.8 1736.5 L2160.3 1709.3 L2118.3 1682.1 L2076.8 1654.8 L2035.8 1627.6 L1995.2 1600.4 L1955.1 1573.1 L1915.5 1545.9 L1876.4 1518.7 L1837.7 1491.4 L1799.5 1464.2 L1761.7 1437.0 L1724.3 1409.7 L1687.4 1382.5 L1651.0 1355.3 L1615.0 1328.0 L1579.4 1300.8 L1544.2 1273.6 L1509.5 1246.3 L1475.1 1219.1 L1441.2 1191.9 L1407.7 1164.6 L1374.6 1137.4 L1342.0 1110.2 L1309.7 1082.9 L1277.8 1055.7 L1246.3 1028.5 L1215.2 1001.2 L1184.5 974.0 L1154.2 946.8 L1124.2 919.5 L1094.6 892.3 L1065.4 865.1 L1036.6 837.8 L1008.1 810.6 L980.0 783.4 L952.3 756.1 L924.9 728.9 L897.9 701.7 L871.2 674.4 L844.8 647.2 L818.9 620.0 L793.2 592.7 L767.9 565.5 L742.9 538.3 L718.3 511.0 L693.9 483.8 L669.9 456.6 L646.3 429.3 L622.9 402.1 L599.9 374.9 L577.2 347.6 L554.8 320.4 L532.7 293.2 L510.9 265.9 L489.4 238.7 L468.2 211.5 L447.3 184.2 L426.7 157.0 M2554.9 1791.0 L2509.1 1763.8 L2463.7 1736.5 L2418.9 1709.3 L2374.6 1682.1 L2330.8 1654.8 L2287.5 1627.6 L2244.7 1600.4 L2202.3 1573.1 L2160.5 1545.9 L2119.2 1518.7 L2078.3 1491.4 L2037.9 1464.2 L1998.0 1437.0 L1958.5 1409.7 L1919.5 1382.5 L1881.0 1355.3 L1842.9 1328.0 L1805.2 1300.8 L1768.0 1273.6 L1731.3 1246.3 L1695.0 1219.1 L1659.1 1191.9 L1623.6 1164.6 L1588.6 1137.4 L1554.0 1110.2 L1519.8 1082.9 L1486.1 1055.7 L1452.7 1028.5 L1419.7 1001.2 L1387.2 974.0 L1355.0 946.8 L1323.3 919.5 L1291.9 892.3 L1260.9 865.1 L1230.4 837.8 L1200.1 810.6 L1170.3 783.4 L1140.9 756.1 L1111.8 728.9 L1083.1 701.7 L1054.7 674.4 L1026.7 647.2 L999.1 620.0 L971.8 592.7 L944.9 565.5 L918.3 538.3 L892.1 511.0 L866.2 483.8 L840.7 456.6 L815.5 429.3 L790.6 402.1 L766.1 374.9 L741.9 347.6 L718.0 320.4 L694.4 293.2 L671.2 265.9 L648.2 238.7 L625.6 211.5 L603.3 184.2 L581.3 157.0 M2820.6 1791.0 L2772.4 1763.8 L2724.7 1736.5 L2677.5 1709.3 L2630.9 1682.1 L2584.8 1654.8 L2539.2 1627.6 L2494.1 1600.4 L2449.6 1573.1 L2405.5 1545.9 L2361.9 1518.7 L2318.9 1491.4 L2276.3 1464.2 L2234.3 1437.0 L2192.7 1409.7 L2151.6 1382.5 L2111.0 1355.3 L2070.8 1328.0 L2031.1 1300.8 L1991.9 1273.6 L1953.1 1246.3 L1914.8 1219.1 L1877.0 1191.9 L1839.6 1164.6 L1802.6 1137.4 L1766.1 1110.2 L1730.0 1082.9 L1694.3 1055.7 L1659.1 1028.5 L1624.3 1001.2 L1589.9 974.0 L1555.9 946.8 L1522.4 919.5 L1489.2 892.3 L1456.5 865.1 L1424.1 837.8 L1392.2 810.6 L1360.6 783.4 L1329.4 756.1 L1298.7 728.9 L1268.3 701.7 L1238.3 674.4 L1208.6 647.2 L1179.4 620.0 L1150.5 592.7 L1122.0 565.5 L1093.8 538.3 L1066.0 511.0 L1038.5 483.8 L1011.5 456.6 L984.7 429.3 L958.3 402.1 L932.3 374.9 L906.6 347.6 L881.2 320.4 L856.2 293.2 L831.5 265.9 L807.1 238.7 L783.0 211.5 L759.3 184.2 L735.9 157.0 M3086.4 1791.0 L3035.7 1763.8 L2985.7 1736.5 L2936.1 1709.3 L2887.2 1682.1 L2838.8 1654.8 L2790.9 1627.6 L2743.6 1600.4 L2696.8 1573.1 L2650.5 1545.9 L2604.7 1518.7 L2559.5 1491.4 L2514.8 1464.2 L2470.6 1437.0 L2426.9 1409.7 L2383.7 1382.5 L2340.9 1355.3 L2298.7 1328.0 L2257.0 1300.8 L2215.7 1273.6 L2175.0 1246.3 L2134.7 1219.1 L2094.8 1191.9 L2055.5 1164.6 L2016.6 1137.4 L1978.1 1110.2 L1940.1 1082.9 L1902.6 1055.7 L1865.5 1028.5 L1828.8 1001.2 L1792.6 974.0 L1756.8 946.8 L1721.4 919.5 L1686.5 892.3 L1652.0 865.1 L1617.9 837.8 L1584.2 810.6 L1550.9 783.4 L1518.0 756.1 L1485.6 728.9 L1453.5 701.7 L1421.8 674.4 L1390.5 647.2 L1359.6 620.0 L1329.1 592.7 L1299.0 565.5 L1269.2 538.3 L1239.9 511.0 L1210.9 483.8 L1182.2 456.6 L1153.9 429.3 L1126.0 402.1 L1098.5 374.9 L1071.3 347.6 L1044.4 320.4 L1017.9 293.2 L991.8 265.9 L966.0 238.7 L940.5 211.5 L915.3 184.2 L890.5 157.0" stroke="#90ee90" stroke-width="1.39" fill="none"/>
<path d="M429.2 1791.0 L404.0 1763.3 L378.9 1735.6 L353.8 1707.8 L328.8 1680.1 L304.0 1652.4 L279.4 1624.7 L254.9 1596.9 L230.7 1569.2 L206.6 1541.5 L182.5 1513.8 L157.9 1486.0 L133.7 1458.3 L109.7 1430.6 L86.0 1402.9 L62.5 1375.1 L39.4 1347.4 L16.6 1319.7 L-6.0 1292.0 L-28.2 1264.2 L-50.1 1236.5 L-71.8 1208.8 L-93.1 1181.1 L-114.2 1153.3 L-134.9 1125.6 L-155.3 1097.9 L-175.5 1070.2 L-195.4 1042.4 L-214.9 1014.7 L-234.2 987.0 L-253.2 959.3 L-271.9 931.5 L-290.3 903.8 L-308.5 876.1 L-326.4 848.4 L-344.0 820.6 L-361.3 792.9 L-378.4 765.2 L-395.1 737.5 L-411.7 709.8 L-427.9 682.0 L-443.9 654.3 L-459.7 626.6 L-475.2 598.9 L-490.4 571.1 L-505.4 543.4 L-520.1 515.7 L-534.6 488.0 L-548.9 460.2 L-562.9 432.5 L-576.6 404.8 M694.9 1791.0 L671.7 1763.3 L648.1 1735.6 L624.2 1707.8 L600.1 1680.1 L575.8 1652.4 L551.3 1624.7 L526.7 1596.9 L502.0 1569.2 L477.3 1541.5 L452.7 1513.8 L428.0 1486.0 L403.4 1458.3 L379.0 1430.6 L354.7 1402.9 L330.5 1375.1 L306.5 1347.4 L282.8 1319.7 L258.3 1292.0 L234.0 1264.2 L210.0 1236.5 L186.2 1208.8 L162.7 1181.1 L139.5 1153.3 L116.6 1125.6 L93.9 1097.9 L71.6 1070.2 L49.5 1042.4 L27.8 1014.7 L6.3 987.0 L-14.8 959.3 L-35.7 931.5 L-56.3 903.8 L-76.5 876.1 L-96.5 848.4 L-116.2 820.6 L-135.6 792.9 L-154.7 765.2 L-173.6 737.5 L-192.1 709.8 L-210.4 682.0 L-228.4 654.3 L-246.1 626.6 L-263.5 598.9 L-280.7 571.1 L-297.6 543.4 L-314.3 515.7 L-330.6 488.0 L-346.8 460.2 L-362.6 432.5 L-378.2 404.8 M960.6 1791.0 L943.0 1763.3 L924.9 1735.6 L906.3 1707.8 L887.2 1680.1 L867.6 1652.4 L847.5 1624.7 L826.9 1596.9 L805.9 1569.2 L784.4 1541.5 L762.4 1513.8 L740.1 1486.0 L717.4 1458.3 L694.3 1430.6 L671.0 1402.9 L647.4 1375.1 L623.7 1347.4 L599.8 1319.7 L575.7 1292.0 L551.6 1264.2 L527.5 1236.5 L503.4 1208.8 L479.4 1181.1 L455.4 1153.3 L431.6 1125.6 L407.9 1097.9 L384.2 1070.2 L359.8 1042.4 L335.7 1014.7 L311.9 987.0 L288.3 959.3 L264.9 931.5 L241.8 903.8 L219.0 876.1 L196.4 848.4 L174.2 820.6 L152.2 792.9 L130.5 765.2 L109.2 737.5 L88.1 709.8 L67.3 682.0 L46.8 654.3 L26.6 626.6 L6.6 598.9 L-13.0 571.1 L-32.3 543.4 L-51.4 515.7 L-70.2 488.0 L-88.7 460.2 L-106.9 432.5 L-124.8 404.8 M1049.2 1791.0 L1034.0 1763.3 L1018.3 1735.6 L1002.2 1707.8 L985.6 1680.1 L968.5 1652.4 L950.9 1624.7 L932.8 1596.9 L914.2 1569.2 L895.1 1541.5 L875.5 1513.8 L855.4 1486.0 L834.8 1458.3 L813.8 1430.6 L792.2 1402.9 L770.3 1375.1 L748.0 1347.4 L725.3 1319.7 L702.4 1292.0 L679.1 1264.2 L655.7 1236.5 L632.0 1208.8 L608.3 1181.1 L584.4 1153.3 L560.5 1125.6 L536.6 1097.9 L512.8 1070.2 L489.0 1042.4 L465.4 1014.7 L441.9 987.0 L417.9 959.3 L393.8 931.5 L369.8 903.8 L346.1 876.1 L322.6 848.4 L299.4 820.6 L276.4 792.9 L253.8 765.2 L231.3 737.5 L209.2 709.8 L187.4 682.0 L165.8 654.3 L144.6 626.6 L123.6 598.9 L102.9 571.1 L82.6 543.4 L62.5 515.7 L42.7 488.0 L23.1 460.2 L3.9 432.5 L-15.0 404.8 M1137.8 1791.0 L1124.9 1763.3 L1111.7 1735.6 L1098.2 1707.8 L1084.2 1680.1 L1069.8 1652.4 L1055.0 1624.7 L1039.7 1596.9 L1024.0 1569.2 L1007.8 1541.5 L991.1 1513.8 L973.9 1486.0 L956.2 1458.3 L938.0 1430.6 L919.3 1402.9 L900.0 1375.1 L880.2 1347.4 L860.0 1319.7 L839.2 1292.0 L818.1 1264.2 L796.4 1236.5 L774.4 1208.8 L752.0 1181.1 L729.4 1153.3 L706.4 1125.6 L683.2 1097.9 L659.8 1070.2 L636.3 1042.4 L612.8 1014.7 L589.1 987.0 L565.5 959.3 L541.9 931.5 L518.4 903.8 L495.0 876.1 L471.3 848.4 L447.2 820.6 L423.3 792.9 L399.6 765.2 L376.2 737.5 L353.0 709.8 L330.0 682.0 L307.3 654.3 L284.9 626.6 L262.7 598.9 L240.9 571.1 L219.3 543.4 L198.0 515.7 L177.0 488.0 L156.3 460.2 L135.9 432.5 L115.8 404.8 M1226.4 1791.0 L1215.8 1763.3 L1204.9 1735.6 L1193.8 1707.8 L1182.3 1680.1 L1170.6 1652.4 L1158.5 1624.7 L1146.1 1596.9 L1133.4 1569.2 L1120.2 1541.5 L1106.7 1513.8 L1092.7 1486.0 L1078.3 1458.3 L1063.4 1430.6 L1048.1 1402.9 L1032.3 1375.1 L1016.0 1347.4 L999.2 1319.7 L981.8 1292.0 L963.9 1264.2 L945.5 1236.5 L926.6 1208.8 L907.2 1181.1 L887.2 1153.3 L866.8 1125.6 L845.9 1097.9 L824.6 1070.2 L802.8 1042.4 L780.8 1014.7 L758.4 987.0 L735.7 959.3 L712.8 931.5 L689.7 903.8 L666.5 876.1 L643.2 848.4 L619.8 820.6 L596.5 792.9 L573.2 765.2 L550.0 737.5 L526.3 709.8 L502.4 682.0 L478.7 654.3 L455.1 626.6 L431.8 598.9 L408.6 571.1 L385.8 543.4 L363.2 515.7 L340.8 488.0 L318.7 460.2 L296.9 432.5 L275.4 404.8 M1314.9 1791.0 L1306.3 1763.3 L1297.6 1735.6 L1288.7 1707.8 L1279.5 1680.1 L1270.2 1652.4 L1260.6 1624.7 L1250.9 1596.9 L1240.8 1569.2 L1230.5 1541.5 L1219.9 1513.8 L1209.1 1486.0 L1197.9 1458.3 L1186.4 1430.6 L1174.5 1402.9 L1162.3 1375.1 L1149.7 1347.4 L1136.7 1319.7 L1123.3 1292.0 L1109.4 1264.2 L1095.1 1236.5 L1080.3 1208.8 L1065.0 1181.1 L1049.2 1153.3 L1032.9 1125.6 L1016.0 1097.9 L998.6 1070.2 L980.7 1042.4 L962.2 1014.7 L943.2 987.0 L923.7 959.3 L903.7 931.5 L883.2 903.8 L862.3 876.1 L840.9 848.4 L819.2 820.6 L797.1 792.9 L774.8 765.2 L752.3 737.5 L729.5 709.8 L706.7 682.0 L683.7 654.3 L660.7 626.6 L637.8 598.9 L614.8 571.1 L591.1 543.4 L567.4 515.7 L543.9 488.0 L520.5 460.2 L497.3 432.5 L474.3 404.8 M1492.1 1791.0 L1486.7 1763.3 L1481.2 1735.6 L1475.7 1707.8 L1470.2 1680.1 L1464.5 1652.4 L1458.9 1624.7 L1453.1 1596.9 L1447.3 1569.2 L1441.4 1541.5 L1435.5 1513.8 L1429.4 1486.0 L1423.3 1458.3 L1417.0 1430.6 L1410.6 1402.9 L1404.1 1375.1 L1397.5 1347.4 L1390.8 1319.7 L1383.9 1292.0 L1376.9 1264.2 L1369.7 1236.5 L1362.3 1208.8 L1354.7 1181.1 L1347.0 1153.3 L1339.0 1125.6 L1330.8 1097.9 L1322.4 1070.2 L1313.7 1042.4 L1304.8 1014.7 L1295.5 987.0 L1286.2 959.3 L1276.6 931.5 L1266.7 903.8 L1256.5 876.1 L1245.9 848.4 L1234.9 820.6 L1223.4 792.9 L1211.6 765.2 L1199.3 737.5 L1186.3 709.8 L1172.7 682.0 L1158.6 654.3 L1144.0 626.6 L1128.8 598.9 L1113.1 571.1 L1096.8 543.4 L1080.0 515.7 L1062.5 488.0 L1044.6 460.2 L1026.0 432.5 L1007.0 404.8 M1580.6 1791.0 L1576.4 1763.3 L1572.1 1735.6 L1567.9 1707.8 L1563.6 1680.1 L1559.3 1652.4 L1555.0 1624.7 L1550.7 1596.9 L1546.3 1569.2 L1542.0 1541.5 L1537.6 1513.8 L1533.1 1486.0 L1528.7 1458.3 L1524.2 1430.6 L1519.6 1402.9 L1515.1 1375.1 L1510.4 1347.4 L1505.7 1319.7 L1501.0 1292.0 L1496.2 1264.2 L1491.3 1236.5 L1486.4 1208.8 L1481.3 1181.1 L1476.2 1153.3 L1471.0 1125.6 L1465.7 1097.9 L1460.3 1070.2 L1454.8 1042.4 L1449.2 1014.7 L1443.4 987.0 L1437.5 959.3 L1431.5 931.5 L1425.3 903.8 L1418.9 876.1 L1412.4 848.4 L1405.7 820.6 L1398.7 792.9 L1391.6 765.2 L1384.3 737.5 L1376.7 709.8 L1368.8 682.0 L1360.7 654.3 L1352.4 626.6 L1343.7 598.9 L1334.6 571.1 L1325.3 543.4 L1315.6 515.7 L1305.5 488.0 L1295.0 460.2 L1284.1 432.5 L1272.7 404.8" stroke="#808080" stroke-width="1.39" fill="none"/>
<path d="M345.2 1787.5 L353.1 1753.4 L361.0 1719.3 L368.9 1685.1 L376.8 1651.0 L384.8 1616.8 L392.8 1582.7 L400.8 1548.5 L408.9 1514.4 L417.0 1480.3 L425.1 1446.1 L433.2 1412.0 L441.4 1377.8 L449.5 1343.7 L457.7 1309.5 L466.0 1275.4 L474.2 1241.3 L482.5 1207.1 L490.8 1173.0 L499.2 1138.8 L507.5 1104.7 L515.9 1070.6 L524.3 1036.4 L532.7 1002.3 L541.2 968.1 L549.7 934.0 L558.2 899.8 L566.7 865.7 L575.2 831.6 L583.8 797.4 L592.4 763.3 L601.0 729.1 L609.7 695.0 L618.3 660.8 L627.0 626.7 L635.7 592.6 L644.5 558.4 L653.2 524.3 L662.0 490.1 L670.8 456.0 L679.6 421.8 M473.7 1787.5 L481.1 1753.4 L488.5 1719.3 L495.9 1685.1 L503.4 1651.0 L510.8 1616.8 L518.4 1582.7 L525.9 1548.5 L533.5 1514.4 L541.1 1480.3 L548.7 1446.1 L556.4 1412.0 L564.0 1377.8 L571.8 1343.7 L579.5 1309.5 L587.3 1275.4 L595.1 1241.3 L602.9 1207.1 L610.8 1173.0 L618.6 1138.8 L626.5 1104.7 L634.5 1070.6 L642.4 1036.4 L650.4 1002.3 L658.4 968.1 L666.5 934.0 L674.5 899.8 L682.6 865.7 L690.8 831.6 L698.9 797.4 L707.1 763.3 L715.3 729.1 L723.5 695.0 L731.7 660.8 L740.0 626.7 L748.3 592.6 L756.6 558.4 L765.0 524.3 L773.3 490.1 L781.7 456.0 L790.2 421.8 M611.4 1787.5 L618.2 1753.4 L625.1 1719.3 L632.0 1685.1 L638.9 1651.0 L645.8 1616.8 L652.8 1582.7 L659.8 1548.5 L666.8 1514.4 L673.9 1480.3 L681.0 1446.1 L688.1 1412.0 L695.3 1377.8 L702.5 1343.7 L709.7 1309.5 L717.0 1275.4 L724.3 1241.3 L731.6 1207.1 L739.0 1173.0 L746.3 1138.8 L753.7 1104.7 L761.2 1070.6 L768.7 1036.4 L776.2 1002.3 L783.7 968.1 L791.2 934.0 L798.8 899.8 L806.4 865.7 L814.1 831.6 L821.8 797.4 L829.5 763.3 L837.2 729.1 L845.0 695.0 L852.7 660.8 L860.6 626.7 L868.4 592.6 L876.3 558.4 L884.2 524.3 L892.1 490.1 L900.0 456.0 L908.0 421.8 M657.9 1787.5 L664.5 1753.4 L671.2 1719.3 L677.8 1685.1 L684.6 1651.0 L691.3 1616.8 L698.1 1582.7 L704.9 1548.5 L711.8 1514.4 L718.7 1480.3 L725.6 1446.1 L732.5 1412.0 L739.5 1377.8 L746.5 1343.7 L753.6 1309.5 L760.7 1275.4 L767.8 1241.3 L774.9 1207.1 L782.1 1173.0 L789.3 1138.8 L796.6 1104.7 L803.8 1070.6 L811.1 1036.4 L818.5 1002.3 L825.8 968.1 L833.2 934.0 L840.6 899.8 L848.1 865.7 L855.6 831.6 L863.1 797.4 L870.6 763.3 L878.2 729.1 L885.8 695.0 L893.4 660.8 L901.1 626.7 L908.8 592.6 L916.5 558.4 L924.2 524.3 L932.0 490.1 L939.8 456.0 L947.6 421.8 M809.2 1787.5 L815.2 1753.4 L821.2 1719.3 L827.3 1685.1 L833.4 1651.0 L839.5 1616.8 L845.7 1582.7 L851.9 1548.5 L858.1 1514.4 L864.4 1480.3 L870.7 1446.1 L877.0 1412.0 L883.4 1377.8 L889.9 1343.7 L896.3 1309.5 L902.8 1275.4 L909.3 1241.3 L915.9 1207.1 L922.5 1173.0 L929.2 1138.8 L935.8 1104.7 L942.5 1070.6 L949.3 1036.4 L956.0 1002.3 L962.8 968.1 L969.7 934.0 L976.6 899.8 L983.5 865.7 L990.4 831.6 L997.4 797.4 L1004.4 763.3 L1011.4 729.1 L1018.5 695.0 L1025.6 660.8 L1032.7 626.7 L1039.9 592.6 L1047.1 558.4 L1054.3 524.3 L1061.6 490.1 L1068.9 456.0 L1076.2 421.8 M903.0 1787.5 L908.6 1753.4 L914.2 1719.3 L919.8 1685.1 L925.5 1651.0 L931.3 1616.8 L937.0 1582.7 L942.8 1548.5 L948.7 1514.4 L954.6 1480.3 L960.5 1446.1 L966.5 1412.0 L972.5 1377.8 L978.5 1343.7 L984.6 1309.5 L990.7 1275.4 L996.9 1241.3 L1003.1 1207.1 L1009.3 1173.0 L1015.6 1138.8 L1021.9 1104.7 L1028.3 1070.6 L1034.6 1036.4 L1041.1 1002.3 L1047.5 968.1 L1054.0 934.0 L1060.5 899.8 L1067.1 865.7 L1073.7 831.6 L1080.3 797.4 L1087.0 763.3 L1093.7 729.1 L1100.4 695.0 L1107.2 660.8 L1114.0 626.7 L1120.8 592.6 L1127.7 558.4 L1134.6 524.3 L1141.5 490.1 L1148.5 456.0 L1155.5 421.8 M972.0 1787.5 L977.3 1753.4 L982.6 1719.3 L988.0 1685.1 L993.3 1651.0 L998.8 1616.8 L1004.3 1582.7 L1009.8 1548.5 L1015.3 1514.4 L1020.9 1480.3 L1026.6 1446.1 L1032.2 1412.0 L1038.0 1377.8 L1043.7 1343.7 L1049.5 1309.5 L1055.4 1275.4 L1061.3 1241.3 L1067.2 1207.1 L1073.1 1173.0 L1079.1 1138.8 L1085.2 1104.7 L1091.3 1070.6 L1097.4 1036.4 L1103.5 1002.3 L1109.7 968.1 L1115.9 934.0 L1122.2 899.8 L1128.5 865.7 L1134.8 831.6 L1141.2 797.4 L1147.6 763.3 L1154.1 729.1 L1160.5 695.0 L1167.1 660.8 L1173.6 626.7 L1180.2 592.6 L1186.8 558.4 L1193.5 524.3 L1200.2 490.1 L1206.9 456.0 L1213.7 421.8 M1073.0 1787.5 L1077.8 1753.4 L1082.7 1719.3 L1087.5 1685.1 L1092.5 1651.0 L1097.5 1616.8 L1102.5 1582.7 L1107.6 1548.5 L1112.7 1514.4 L1117.9 1480.3 L1123.1 1446.1 L1128.3 1412.0 L1133.6 1377.8 L1139.0 1343.7 L1144.4 1309.5 L1149.8 1275.4 L1155.2 1241.3 L1160.8 1207.1 L1166.3 1173.0 L1171.9 1138.8 L1177.5 1104.7 L1183.2 1070.6 L1188.9 1036.4 L1194.7 1002.3 L1200.5 968.1 L1206.3 934.0 L1212.2 899.8 L1218.1 865.7 L1224.1 831.6 L1230.1 797.4 L1236.1 763.3 L1242.2 729.1 L1248.3 695.0 L1254.4 660.8 L1260.6 626.7 L1266.8 592.6 L1273.1 558.4 L1279.4 524.3 L1285.7 490.1 L1292.1 456.0 L1298.5 421.8 M1147.3 1787.5 L1151.8 1753.4 L1156.3 1719.3 L1160.8 1685.1 L1165.4 1651.0 L1170.1 1616.8 L1174.8 1582.7 L1179.5 1548.5 L1184.3 1514.4 L1189.2 1480.3 L1194.0 1446.1 L1199.0 1412.0 L1204.0 1377.8 L1209.0 1343.7 L1214.0 1309.5 L1219.2 1275.4 L1224.3 1241.3 L1229.5 1207.1 L1234.8 1173.0 L1240.1 1138.8 L1245.4 1104.7 L1250.8 1070.6 L1256.2 1036.4 L1261.6 1002.3 L1267.1 968.1 L1272.7 934.0 L1278.3 899.8 L1283.9 865.7 L1289.6 831.6 L1295.3 797.4 L1301.0 763.3 L1306.8 729.1 L1312.6 695.0 L1318.5 660.8 L1324.4 626.7 L1330.4 592.6 L1336.4 558.4 L1342.4 524.3 L1348.4 490.1 L1354.5 456.0 L1360.7 421.8 M1206.5 1787.5 L1210.7 1753.4 L1214.9 1719.3 L1219.2 1685.1 L1223.5 1651.0 L1227.9 1616.8 L1232.3 1582.7 L1236.8 1548.5 L1241.3 1514.4 L1245.9 1480.3 L1250.5 1446.1 L1255.2 1412.0 L1259.9 1377.8 L1264.7 1343.7 L1269.5 1309.5 L1274.4 1275.4 L1279.3 1241.3 L1284.2 1207.1 L1289.2 1173.0 L1294.3 1138.8 L1299.4 1104.7 L1304.5 1070.6 L1309.7 1036.4 L1314.9 1002.3 L1320.2 968.1 L1325.5 934.0 L1330.8 899.8 L1336.2 865.7 L1341.6 831.6 L1347.1 797.4 L1352.6 763.3 L1358.2 729.1 L1363.8 695.0 L1369.5 660.8 L1375.1 626.7 L1380.9 592.6 L1386.6 558.4 L1392.4 524.3 L1398.3 490.1 L1404.2 456.0 L1410.1 421.8 M1298.3 1787.5 L1302.0 1753.4 L1305.8 1719.3 L1309.7 1685.1 L1313.6 1651.0 L1317.5 1616.8 L1321.5 1582.7 L1325.6 1548.5 L1329.7 1514.4 L1333.9 1480.3 L1338.1 1446.1 L1342.3 1412.0 L1346.7 1377.8 L1351.0 1343.7 L1355.4 1309.5 L1359.9 1275.4 L1364.4 1241.3 L1369.0 1207.1 L1373.6 1173.0 L1378.2 1138.8 L1383.0 1104.7 L1387.7 1070.6 L1392.5 1036.4 L1397.4 1002.3 L1402.2 968.1 L1407.2 934.0 L1412.2 899.8 L1417.2 865.7 L1422.3 831.6 L1427.4 797.4 L1432.6 763.3 L1437.8 729.1 L1443.0 695.0 L1448.3 660.8 L1453.6 626.7 L1459.0 592.6 L1464.4 558.4 L1469.9 524.3 L1475.4 490.1 L1481.0 456.0 L1486.6 421.8 M1368.8 1787.5 L1372.2 1753.4 L1375.7 1719.3 L1379.2 1685.1 L1382.8 1651.0 L1386.4 1616.8 L1390.1 1582.7 L1393.8 1548.5 L1397.6 1514.4 L1401.4 1480.3 L1405.3 1446.1 L1409.3 1412.0 L1413.3 1377.8 L1417.3 1343.7 L1421.4 1309.5 L1425.6 1275.4 L1429.8 1241.3 L1434.0 1207.1 L1438.3 1173.0 L1442.7 1138.8 L1447.1 1104.7 L1451.6 1070.6 L1456.1 1036.4 L1460.6 1002.3 L1465.2 968.1 L1469.9 934.0 L1474.6 899.8 L1479.3 865.7 L1484.1 831.6 L1488.9 797.4 L1493.8 763.3 L1498.8 729.1 L1503.7 695.0 L1508.8 660.8 L1513.8 626.7 L1518.9 592.6 L1524.1 558.4 L1529.3 524.3 L1534.5 490.1 L1539.8 456.0 L1545.1 421.8 M1451.6 1787.5 L1454.6 1753.4 L1457.7 1719.3 L1460.8 1685.1 L1463.9 1651.0 L1467.2 1616.8 L1470.5 1582.7 L1473.8 1548.5 L1477.2 1514.4 L1480.6 1480.3 L1484.2 1446.1 L1487.7 1412.0 L1491.3 1377.8 L1495.0 1343.7 L1498.8 1309.5 L1502.5 1275.4 L1506.4 1241.3 L1510.3 1207.1 L1514.2 1173.0 L1518.2 1138.8 L1522.3 1104.7 L1526.4 1070.6 L1530.5 1036.4 L1534.7 1002.3 L1539.0 968.1 L1543.3 934.0 L1547.6 899.8 L1552.1 865.7 L1556.5 831.6 L1561.0 797.4 L1565.6 763.3 L1570.2 729.1 L1574.8 695.0 L1579.5 660.8 L1584.2 626.7 L1589.0 592.6 L1593.9 558.4 L1598.8 524.3 L1603.7 490.1 L1608.7 456.0 L1613.7 421.8 M1536.4 1787.5 L1539.0 1753.4 L1541.6 1719.3 L1544.3 1685.1 L1547.1 1651.0 L1549.9 1616.8 L1552.8 1582.7 L1555.7 1548.5 L1558.7 1514.4 L1561.7 1480.3 L1564.9 1446.1 L1568.0 1412.0 L1571.3 1377.8 L1574.5 1343.7 L1577.9 1309.5 L1581.3 1275.4 L1584.8 1241.3 L1588.3 1207.1 L1591.8 1173.0 L1595.5 1138.8 L1599.1 1104.7 L1602.9 1070.6 L1606.7 1036.4 L1610.5 1002.3 L1614.4 968.1 L1618.4 934.0 L1622.4 899.8 L1626.4 865.7 L1630.5 831.6 L1634.7 797.4 L1638.9 763.3 L1643.1 729.1 L1647.4 695.0 L1651.8 660.8 L1656.2 626.7 L1660.7 592.6 L1665.2 558.4 L1669.7 524.3 L1674.3 490.1 L1679.0 456.0 L1683.7 421.8 M1603.5 1787.5 L1605.7 1753.4 L1608.0 1719.3 L1610.3 1685.1 L1612.8 1651.0 L1615.2 1616.8 L1617.8 1582.7 L1620.4 1548.5 L1623.1 1514.4 L1625.8 1480.3 L1628.6 1446.1 L1631.4 1412.0 L1634.4 1377.8 L1637.3 1343.7 L1640.4 1309.5 L1643.5 1275.4 L1646.6 1241.3 L1649.8 1207.1 L1653.1 1173.0 L1656.4 1138.8 L1659.8 1104.7 L1663.2 1070.6 L1666.7 1036.4 L1670.3 1002.3 L1673.9 968.1 L1677.6 934.0 L1681.3 899.8 L1685.1 865.7 L1688.9 831.6 L1692.8 797.4 L1696.7 763.3 L1700.7 729.1 L1704.7 695.0 L1708.8 660.8 L1712.9 626.7 L1717.1 592.6 L1721.4 558.4 L1725.7 524.3 L1730.0 490.1 L1734.4 456.0 L1738.8 421.8" stroke="#ee82ee" stroke-width="1.39" stroke-dasharray="16.67 16.67" fill="none"/>
<path d="M-1253.6 1791.0 L-537.7 157.0 M-1165.1 1791.0 L-449.2 157.0 M-1076.5 1791.0 L-360.6 157.0 M-987.9 1791.0 L-272.0 157.0 M-899.4 1791.0 L-183.4 157.0 M-810.8 1791.0 L-94.9 157.0 M-722.2 1791.0 L-6.3 157.0 M-633.6 1791.0 L82.3 157.0 M-545.1 1791.0 L170.8 157.0 M-456.5 1791.0 L259.4 157.0 M-367.9 1791.0 L348.0 157.0 M-279.4 1791.0 L436.6 157.0 M-190.8 1791.0 L525.1 157.0 M-102.2 1791.0 L613.7 157.0 M-13.6 1791.0 L702.3 157.0 M74.9 1791.0 L790.8 157.0 M163.5 1791.0 L879.4 157.0 M252.1 1791.0 L968.0 157.0 M340.6 1791.0 L1056.6 157.0 M429.2 1791.0 L1145.1 157.0 M517.8 1791.0 L1233.7 157.0 M606.4 1791.0 L1322.3 157.0 M694.9 1791.0 L1410.8 157.0 M783.5 1791.0 L1499.4 157.0 M872.1 1791.0 L1588.0 157.0 M1049.2 1791.0 L1765.1 157.0 M1137.8 1791.0 L1853.7 157.0 M1226.4 1791.0 L1942.3 157.0 M1314.9 1791.0 L2030.8 157.0 M1403.5 1791.0 L2119.4 157.0" stroke="#000" stroke-width="1.39" stroke-dasharray="2.78 8.33" fill="none"/>
<path d="M163.5 404.5 L1403.5 404.5 M163.5 596.5 L1403.5 596.5 M163.5 754.5 L1403.5 754.5 M163.5 886.5 L1403.5 886.5 M163.5 1001.5 L1403.5 1001.5 M163.5 1103.5 L1403.5 1103.5 M163.5 1193.5 L1403.5 1193.5 M163.5 1276.5 L1403.5 1276.5 M163.5 1351.5 L1403.5 1351.5 M163.5 1419.5 L1403.5 1419.5 M163.5 1483.5 L1403.5 1483.5 M163.5 1543.5 L1403.5 1543.5 M163.5 1598.5 L1403.5 1598.5 M163.5 1651.5 L1403.5 1651.5 M163.5 1700.5 L1403.5 1700.5 M163.5 1746.5 L1403.5 1746.5" stroke="#000" stroke-width="1.39" stroke-dasharray="2.78 8.33" fill="none"/>
<path d="M960.6 1791.0 L1676.6 157.0" stroke="#000" stroke-width="2.78" fill="none"/>
</g>
<path d="M252.5 1791.5 v-11.1 M340.5 1791.5 v-11.1 M429.5 1791.5 v-11.1 M517.5 1791.5 v-11.1 M606.5 1791.5 v-11.1 M694.5 1791.5 v-11.1 M783.5 1791.5 v-11.1 M872.5 1791.5 v-11.1 M960.5 1791.5 v-11.1 M1049.5 1791.5 v-11.1 M1137.5 1791.5 v-11.1 M1226.5 1791.5 v-11.1 M1314.5 1791.5 v-11.1 M170.5 157.5 v11.1 M259.5 157.5 v11.1 M347.5 157.5 v11.1 M436.5 157.5 v11.1 M525.5 157.5 v11.1 M613.5 157.5 v11.1 M702.5 157.5 v11.1 M790.5 157.5 v11.1 M879.5 157.5 v11.1 M967.5 157.5 v11.1 M1056.5 157.5 v11.1 M1145.5 157.5 v11.1 M1233.5 157.5 v11.1 M1322.5 157.5 v11.1 M163.5 404.5 h11.1 M1403.5 404.5 h-11.1 M163.5 596.5 h11.1 M1403.5 596.5 h-11.1 M163.5 754.5 h11.1 M1403.5 754.5 h-11.1 M163.5 886.5 h11.1 M1403.5 886.5 h-11.1 M163.5 1001.5 h11.1 M1403.5 1001.5 h-11.1 M163.5 1103.5 h11.1 M1403.5 1103.5 h-11.1 M163.5 1193.5 h11.1 M1403.5 1193.5 h-11.1 M163.5 1276.5 h11.1 M1403.5 1276.5 h-11.1 M163.5 1351.5 h11.1 M1403.5 1351.5 h-11.1 M163.5 1419.5 h11.1 M1403.5 1419.5 h-11.1 M163.5 1483.5 h11.1 M1403.5 1483.5 h-11.1 M163.5 1543.5 h11.1 M1403.5 1543.5 h-11.1 M163.5 1598.5 h11.1 M1403.5 1598.5 h-11.1 M163.5 1651.5 h11.1 M1403.5 1651.5 h-11.1 M163.5 1700.5 h11.1 M1403.5 1700.5 h-11.1 M163.5 1746.5 h11.1 M1403.5 1746.5 h-11.1" stroke="#000" stroke-width="1.39" fill="none"/>
<rect x="163.5" y="157.5" width="1240.0" height="1634.0" fill="none" stroke="#000" stroke-width="2.78"/>
<rect x="44.5" y="1892.4" width="1478" height="119.8" rx="8.5" ry="8.5" fill="#fff" stroke="#000" stroke-width="2.78"/>
<g stroke-width="2.78" fill="none">
<path d="M71.1 1937.5H149.7" stroke="#ff0000"/>
<path d="M71.1 1967.5H149.7" stroke="#ffa500"/>
<path d="M492.8 1937.5H572.1" stroke="#00008b"/>
<path d="M492.8 1967.5H572.1" stroke="#00ddd8"/>
<path d="M914 1937.5H993.3" stroke="#600b4b"/>
<path d="M914 1967.5H993.3" stroke="#de00d8"/>
</g>
<circle cx="895.5" cy="1858.5" r="4.1" fill="none" stroke="#000" stroke-width="1.25"/>

<g opacity="0.999">
<text transform="translate(88.29 167.00) scale(0.9850 1)" x="0.73 22.31 43.97" y="0" font-size="35.4">150</text>
<text transform="translate(88.29 415.00) scale(0.9850 1)" x="0.47 22.44 43.97" y="0" font-size="35.4">200</text>
<text transform="translate(88.29 607.00) scale(0.9850 1)" x="0.47 22.31 43.97" y="0" font-size="35.4">250</text>
<text transform="translate(88.29 764.00) scale(0.9850 1)" x="0.96 22.44 43.97" y="0" font-size="35.4">300</text>
<text transform="translate(88.29 897.00) scale(0.9850 1)" x="0.96 22.31 43.97" y="0" font-size="35.4">350</text>
<text transform="translate(88.29 1012.00) scale(0.9850 1)" x="0.91 22.44 43.97" y="0" font-size="35.4">400</text>
<text transform="translate(88.29 1113.00) scale(0.9850 1)" x="0.91 22.31 43.97" y="0" font-size="35.4">450</text>
<text transform="translate(88.29 1204.00) scale(0.9850 1)" x="0.78 22.44 43.97" y="0" font-size="35.4">500</text>
<text transform="translate(88.29 1286.00) scale(0.9850 1)" x="0.78 22.31 43.97" y="0" font-size="35.4">550</text>
<text transform="translate(88.29 1361.00) scale(0.9850 1)" x="0.92 22.44 43.97" y="0" font-size="35.4">600</text>
<text transform="translate(88.29 1430.00) scale(0.9850 1)" x="0.92 22.31 43.97" y="0" font-size="35.4">650</text>
<text transform="translate(88.29 1494.00) scale(0.9850 1)" x="0.85 22.44 43.97" y="0" font-size="35.4">700</text>
<text transform="translate(88.29 1553.00) scale(0.9850 1)" x="0.85 22.31 43.97" y="0" font-size="35.4">750</text>
<text transform="translate(88.29 1609.00) scale(0.9850 1)" x="0.91 22.44 43.97" y="0" font-size="35.4">800</text>
<text transform="translate(88.29 1661.00) scale(0.9850 1)" x="0.91 22.31 43.97" y="0" font-size="35.4">850</text>
<text transform="translate(88.29 1710.00) scale(0.9850 1)" x="0.81 22.44 43.97" y="0" font-size="35.4">900</text>
<text transform="translate(88.29 1757.00) scale(0.9850 1)" x="0.81 22.31 43.97" y="0" font-size="35.4">950</text>
<text transform="translate(67.08 1801.00) scale(0.9850 1)" x="0.73 22.44 43.97 65.5" y="0" font-size="35.4">1000</text>
<text transform="translate(128.33 1828.10) scale(1.2130 1)" x="1.17" y="0" font-size="35.4">−</text>
<text transform="translate(156.26 1828.10) scale(0.9850 1)" x="0.91 22.31" y="0" font-size="35.4">45</text>
<text transform="translate(216.90 1828.10) scale(1.2130 1)" x="1.17" y="0" font-size="35.4">−</text>
<text transform="translate(244.83 1828.10) scale(0.9850 1)" x="0.91 22.44" y="0" font-size="35.4">40</text>
<text transform="translate(305.47 1828.10) scale(1.2130 1)" x="1.17" y="0" font-size="35.4">−</text>
<text transform="translate(333.40 1828.10) scale(0.9850 1)" x="0.96 22.31" y="0" font-size="35.4">35</text>
<text transform="translate(394.04 1828.10) scale(1.2130 1)" x="1.17" y="0" font-size="35.4">−</text>
<text transform="translate(421.97 1828.10) scale(0.9850 1)" x="0.96 22.44" y="0" font-size="35.4">30</text>
<text transform="translate(482.61 1828.10) scale(1.2130 1)" x="1.17" y="0" font-size="35.4">−</text>
<text transform="translate(510.54 1828.10) scale(0.9850 1)" x="0.47 22.31" y="0" font-size="35.4">25</text>
<text transform="translate(571.18 1828.10) scale(1.2130 1)" x="1.17" y="0" font-size="35.4">−</text>
<text transform="translate(599.11 1828.10) scale(0.9850 1)" x="0.47 22.44" y="0" font-size="35.4">20</text>
<text transform="translate(659.76 1828.10) scale(1.2130 1)" x="1.17" y="0" font-size="35.4">−</text>
<text transform="translate(687.69 1828.10) scale(0.9850 1)" x="0.73 22.31" y="0" font-size="35.4">15</text>
<text transform="translate(748.33 1828.10) scale(1.2130 1)" x="1.17" y="0" font-size="35.4">−</text>
<text transform="translate(776.26 1828.10) scale(0.9850 1)" x="0.73 22.44" y="0" font-size="35.4">10</text>
<text transform="translate(847.50 1828.10) scale(1.2130 1)" x="1.17" y="0" font-size="35.4">−</text>
<text transform="translate(875.43 1828.10) scale(0.9850 1)" x="0.78" y="0" font-size="35.4">5</text>
<text transform="translate(950.04 1828.10) scale(0.9850 1)" x="0.91" y="0" font-size="35.4">0</text>
<text transform="translate(1038.61 1828.10) scale(0.9850 1)" x="0.78" y="0" font-size="35.4">5</text>
<text transform="translate(1116.58 1828.10) scale(0.9850 1)" x="0.73 22.44" y="0" font-size="35.4">10</text>
<text transform="translate(1205.15 1828.10) scale(0.9850 1)" x="0.73 22.31" y="0" font-size="35.4">15</text>
<text transform="translate(1293.72 1828.10) scale(0.9850 1)" x="0.47 22.44" y="0" font-size="35.4">20</text>
<text transform="translate(1382.29 1828.10) scale(0.9850 1)" x="0.47 22.31" y="0" font-size="35.4">25</text>
<text transform="translate(442.12 51.30) scale(1.0000 1)" x="-0.78 24.98 50.91 89.13 113.48 134.27 146.52 182.13 207.78 232.09 255.08 280.12 305.11 329.55 343.46 366.35 392.28 429.4 442.77 468.44 493.45 506.62 531.99 557.08 569.72 595.7 620.94 646.49" y="0" font-size="42.6">Temps München vom 14.07.2019</text>
<text transform="translate(284.85 97.80) scale(1.0000 1)" x="1.91 39.96 52.09 65.98 77.94 105.56 131.88 157.56 168.29 192.5 213.76 238.83 263.97 289.37 314.44 339.57 363.32 390.83 405.31 430.38 454.85 466.54 492.99 517.73 538.55 550.55 584.04 608.96 634.99 649.66 670.39 693.45 718.83 729.72 754.7 765.07 785.98 807.7 832.82 857.8 870 907.18 920.73 946.34 971.47" y="0" font-size="42.6">mit Radiosondendaten aus Oberschleissheim und</text>
<text transform="translate(402.66 143.30) scale(1.0000 1)" x="-0.43 35.46 47.01 70.89 85.9 111 143.38 168.32 179.46 190.34 215.4 241.78 255.28 281.58 307.25 317.97 343.97 381.72 407.66 422.12 448.13 463.36 487.09 514.59 529.05 554.1 578.57 592.54 615.49 641.49 678.67 690.98 726.02 737.42" y="0" font-size="42.6">Mikrowellenradiometerdaten vom MIM</text>
<text transform="translate(635.90 1876.90) scale(1.0000 1)" x="-0.56 20.97 42.69 74.6 95.37 117.04 128.32 151.22 163.48 185.61 197.72 209.09 218.5" y="0" font-size="35.3">Temperatur in</text>
<text transform="translate(906.93 1876.90) scale(1.0000 1)" x="-0.05" y="0" font-size="35.3">C</text>
<text transform="translate(45.30 1080.99) rotate(-90) scale(1.0000 1)" x="0.21 27.47 40.32 60.82 80.4 98.67 110.08 119.52 139.88 151.36 170.67 191.18" y="0" font-size="35.3">Druck in hPa</text>
<text transform="translate(191.54 1964.80) scale(1.0000 1)" x="0.99 26.69 52.28 65.77 91.68 116.39 128.62 158.12 181.94" y="0" font-size="42.6">00:18 UTC</text>
<text transform="translate(611.91 1964.80) scale(1.0000 1)" x="0.57 26.5 52.82 66.54 92.5 117.45 129.94 159.69 183.75" y="0" font-size="42.6">22:59 UTC</text>
<text transform="translate(1034.35 1964.80) scale(1.0000 1)" x="-1.25 25.93 51.01 76.15 101.55 126.63 150.04 176.5 202.82 215.38 238.05 252.81 263.68 288.46 313.28 326.96 352.5 377.12 389.19 418.53 442.19" y="0" font-size="42.6">Sondenaufstieg 00 UTC</text>
</g>
</svg>
</body></html>
